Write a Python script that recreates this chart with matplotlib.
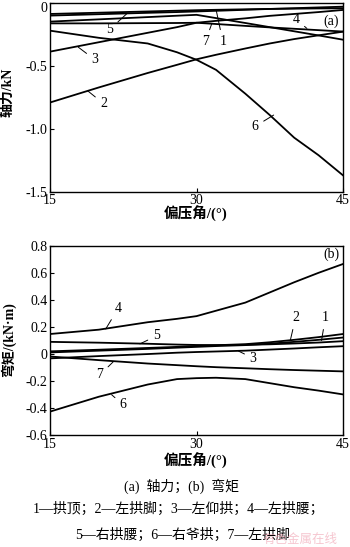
import matplotlib
matplotlib.use("Agg")
import matplotlib.pyplot as plt
import matplotlib.transforms as mtransforms

plt.rcParams["font.family"] = ["Liberation Serif", "Noto Sans CJK SC"]
plt.rcParams["axes.unicode_minus"] = False

# offset angle (deg)
angle = [15, 20, 25, 28, 30, 32, 35, 37.5, 40, 42.5, 45]

# (a) axial force, kN
axial = {
    "1": [-0.098, -0.087, -0.076, -0.070, -0.065, -0.060, -0.052, -0.045, -0.039, -0.033, -0.027],
    "2": [-0.79, -0.67, -0.555, -0.49, -0.446, -0.41, -0.36, -0.32, -0.285, -0.255, -0.226],
    "3": [-0.385, -0.31, -0.235, -0.19, -0.155, -0.14, -0.12, -0.10, -0.085, -0.07, -0.053],
    "4": [-0.146, -0.128, -0.11, -0.099, -0.092, -0.118, -0.157, -0.19, -0.223, -0.256, -0.29],
    "5": [-0.085, -0.075, -0.065, -0.059, -0.055, -0.052, -0.048, -0.045, -0.043, -0.041, -0.040],
    "6": [-0.218, -0.275, -0.32, -0.39, -0.45, -0.53, -0.72, -0.89, -1.07, -1.21, -1.37],
    "7": [-0.16, -0.16, -0.158, -0.157, -0.155, -0.165, -0.18, -0.192, -0.203, -0.214, -0.225],
}

# (b) bending moment, kN*m
moment = {
    "1": [0.012, 0.025, 0.038, 0.047, 0.053, 0.059, 0.066, 0.077, 0.090, 0.105, 0.122],
    "2": [0.020, 0.032, 0.045, 0.053, 0.060, 0.065, 0.073, 0.087, 0.105, 0.125, 0.148],
    "3": [-0.032, -0.015, 0.0, 0.010, 0.015, 0.019, 0.025, 0.033, 0.041, 0.050, 0.058],
    "4": [0.148, 0.18, 0.235, 0.26, 0.28, 0.32, 0.38, 0.455, 0.53, 0.60, 0.665],
    "5": [0.090, 0.084, 0.076, 0.070, 0.067, 0.066, 0.068, 0.072, 0.078, 0.085, 0.095],
    "6": [-0.425, -0.315, -0.225, -0.185, -0.178, -0.175, -0.185, -0.215, -0.245, -0.27, -0.298],
    "7": [-0.018, -0.045, -0.07, -0.082, -0.09, -0.097, -0.105, -0.112, -0.118, -0.123, -0.128],
}

fig = plt.figure(figsize=(3.5, 5.47), dpi=100)
ax1 = fig.add_axes([0.143, 0.6496, 0.837, 0.3444])
ax2 = fig.add_axes([0.143, 0.2042, 0.837, 0.3466])

for k in axial:
    ax1.plot(angle, axial[k], color="black", lw=1.3)
for k in moment:
    ax2.plot(angle, moment[k], color="black", lw=1.3)

ax1.set_xlim(15, 45)
ax1.set_ylim(-1.5, 0)
ax1.set_yticks([0, -0.5, -1.0, -1.5])
ax1.set_yticklabels(["0", "-0.5", "-1.0", "-1.5"])

ax2.set_xlim(15, 45)
ax2.set_ylim(-0.6, 0.8)
ax2.set_yticks([0.8, 0.6, 0.4, 0.2, 0, -0.2, -0.4, -0.6])
ax2.set_yticklabels(["0.8", "0.6", "0.4", "0.2", "0", "-0.2", "-0.4", "-0.6"])

for ax in [ax1, ax2]:
    ax.set_xticks([15, 30, 45])
    ax.set_xticklabels(["15", "30", "45"])
    ax.tick_params(direction="in", length=3, width=0.8, labelsize=10, pad=2)
    for s in ax.spines.values():
        s.set_linewidth(1.0)

# keep the top "0" label inside the figure
zero_lab = ax1.get_yticklabels()[0]
zero_lab.set_transform(zero_lab.get_transform() +
                       mtransforms.ScaledTranslation(0, -3 / 72, fig.dpi_scale_trans))

# curve labels (a)
lab_a = [("5", (22.9, -0.08), (21.1, -0.21)),
         ("3", (17.9, -0.35), (19.6, -0.45)),
         ("2", (18.9, -0.70), (20.5, -0.80)),
         ("6", (37.9, -0.89), (36.0, -0.98)),
         ("7", (31.55, -0.165), (30.9, -0.305)),
         ("1", (32.0, -0.05), (32.7, -0.305)),
         ("4", (41.3, -0.20), (40.2, -0.127))]
for t, xy, xyt in lab_a:
    ax1.annotate(t, xy=xy, xytext=xyt, fontsize=10, ha="center", va="center",
                 arrowprops=dict(arrowstyle="-", lw=0.7, color="black", shrinkA=2, shrinkB=0))
ax1.text(43.8, -0.146, "(a)", fontsize=10, ha="center", va="center")

# curve labels (b)
lab_b = [("4", (20.7, 0.185), (22.0, 0.34)),
         ("5", (24.2, 0.075), (25.9, 0.134)),
         ("2", (39.6, 0.10), (40.15, 0.27)),
         ("1", (42.8, 0.10), (43.2, 0.27)),
         ("3", (34.3, 0.022), (35.8, -0.031)),
         ("7", (21.5, -0.055), (20.1, -0.154)),
         ("6", (21.3, -0.30), (22.5, -0.376))]
for t, xy, xyt in lab_b:
    ax2.annotate(t, xy=xy, xytext=xyt, fontsize=10, ha="center", va="center",
                 arrowprops=dict(arrowstyle="-", lw=0.7, color="black", shrinkA=2, shrinkB=0))
ax2.text(43.8, 0.734, "(b)", fontsize=10, ha="center", va="center")

# axis titles and caption
fig.text(8 / 350, 1 - 92 / 547, "轴力/kN", rotation=90, fontsize=10, fontweight="bold",
         ha="center", va="center")
fig.text(8 / 350, 1 - 340 / 547, "弯矩/(kN·m)", rotation=90, fontsize=10, fontweight="bold",
         ha="center", va="center")
fig.text(196 / 350, 1 - 214 / 547, "偏压角/(°)", fontsize=10.5, fontweight="bold",
         ha="center", va="center")
fig.text(196 / 350, 1 - 461 / 547, "偏压角/(°)", fontsize=10.5, fontweight="bold",
         ha="center", va="center")
fig.text(182 / 350, 1 - 486 / 547, "(a)  轴力；(b)  弯矩", fontsize=10, ha="center", va="center")
fig.text(178 / 350, 1 - 509 / 547, "1—拱顶；2—左拱脚；3—左仰拱；4—左拱腰；", fontsize=10,
         ha="center", va="center")
fig.text(183 / 350, 1 - 535 / 547, "5—右拱腰；6—右爷拱；7—左拱脚", fontsize=10,
         ha="center", va="center")
fig.text(300 / 350, 1 - 540 / 547, "有色金属在线", fontsize=9, color="#f0a0b0", alpha=0.6,
         ha="center", va="center")

fig.savefig("out.png", dpi=100)
